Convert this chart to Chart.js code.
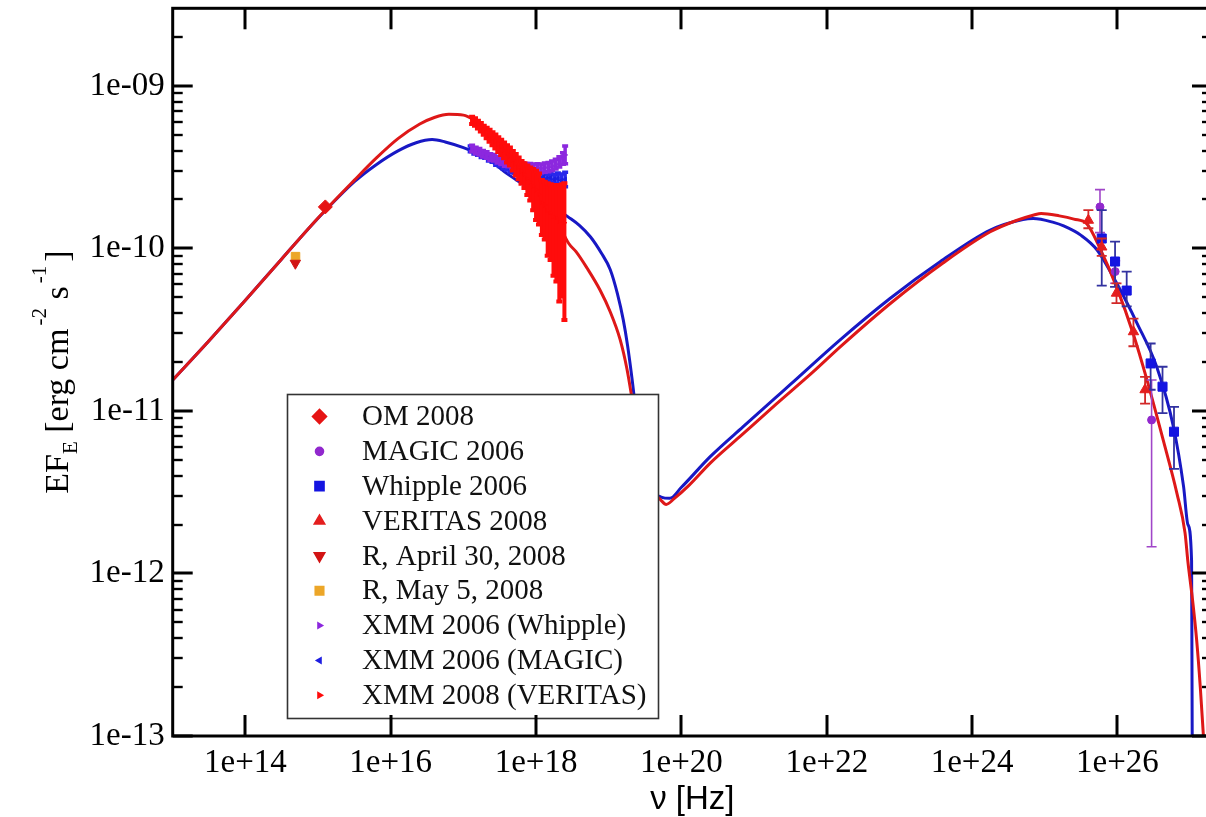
<!DOCTYPE html>
<html>
<head>
<meta charset="utf-8">
<title>SED</title>
<script src="https://cdn.jsdelivr.net/npm/chart.js@4.4.0/dist/chart.umd.min.js"></script>
<style>
  html, body { margin: 0; padding: 0; background: #fff; overflow: hidden; }
  #wrap { width: 1220px; height: 817px; }
</style>
</head>
<body>
<div id="wrap"><canvas id="sed" width="1220" height="817"></canvas></div>
<script>
// ---- axis ranges and tick decades ----
const xRange = [1e13, 2e27];
const yRange = [1e-13, 3e-9];
const xTickExps = [14, 16, 18, 20, 22, 24, 26];
const yTickExps = [-13, -12, -11, -10, -9];

// ---- model curves (log10 nu [Hz], log10 EF_E [erg cm^-2 s^-1]) ----
const model2008LogNu = [13.0, 13.5, 14.0, 14.5, 15.0, 15.5, 15.8, 16.1, 16.4, 16.6, 16.8, 17.0, 17.14, 17.3, 17.5,
  17.7, 17.9, 18.1, 18.3, 18.45, 18.55, 18.7, 18.88, 19.02, 19.156, 19.25, 19.33, 19.42, 19.52, 19.62, 19.72, 19.79,
  19.9, 20.1, 20.4, 20.8, 21.3, 21.8, 22.2, 22.9, 23.6, 24.25, 24.6, 24.85, 24.95, 25.2, 25.4, 25.58, 25.76, 25.99,
  26.22, 26.4, 26.63, 26.82, 26.93, 26.97, 27.03, 27.09, 27.14, 27.19];
const model2008LogF = [-10.81, -10.568, -10.319, -10.065, -9.813, -9.58, -9.445, -9.325, -9.235, -9.195, -9.175,
  -9.18, -9.21, -9.27, -9.35, -9.44, -9.55, -9.68, -9.84, -9.97, -10.02, -10.12, -10.256, -10.39, -10.56, -10.74,
  -10.95, -11.2, -11.4, -11.5, -11.55, -11.575, -11.54, -11.46, -11.32, -11.16, -10.96, -10.765, -10.6, -10.33,
  -10.09, -9.898, -9.83, -9.795, -9.785, -9.80, -9.82, -9.85, -10.0, -10.24, -10.53, -10.8, -11.18, -11.51, -11.75,
  -11.93, -12.15, -12.41, -12.7, -13.05];

const model2006LogNu = [13.0, 13.5, 14.0, 14.5, 15.0, 15.5, 15.8, 16.1, 16.35, 16.57, 16.75, 17.0, 17.14, 17.4,
  17.6, 17.8, 18.0, 18.2, 18.44, 18.6, 18.75, 18.9, 19.02, 19.12, 19.2, 19.26, 19.32, 19.4, 19.5, 19.62, 19.72,
  19.84, 20.0, 20.4, 20.85, 21.3, 21.5, 22.18, 22.87, 23.56, 24.25, 24.7, 24.84, 25.12, 25.26, 25.5, 25.72, 25.99,
  26.27, 26.54, 26.77, 26.91, 26.97, 27.02, 27.025, 27.03];
const model2006LogF = [-10.81, -10.568, -10.319, -10.065, -9.815, -9.59, -9.485, -9.40, -9.35, -9.33, -9.345,
  -9.38, -9.406, -9.47, -9.54, -9.60, -9.66, -9.73, -9.806, -9.86, -9.93, -10.03, -10.13, -10.28, -10.44, -10.6,
  -10.8, -11.1, -11.36, -11.5, -11.53, -11.538, -11.47, -11.28, -11.097, -10.917, -10.837, -10.564, -10.308,
  -10.082, -9.887, -9.822, -9.816, -9.84, -9.862, -9.92, -10.01, -10.215, -10.461, -10.728, -11.097, -11.466, -11.7,
  -11.92, -12.5, -13.2];

// ---- optical points ----
const omNu = [1.26e15];
const omF = [1.8e-10];
const rApr30Nu = [4.87e14];
const rApr30F = [8.1e-11];
const rMay5Nu = [4.9e14];
const rMay5F = [8.9e-11];

// ---- very-high-energy gamma-ray points ----
const magicNu = [5.75e25, 9.3e25, 2.95e26];
const magicF = [1.8e-10, 7.2e-11, 8.8e-12];
const magicLo = [1.25e-10, 6.1e-11, 1.46e-12];
const magicHi = [2.3e-10, 8.4e-11, 1.55e-11];

const whippleNu = [6.08e25, 9.27e25, 1.34e26, 2.86e26, 4.17e26, 6.0e26];
const whippleF = [1.15e-10, 8.3e-11, 5.5e-11, 1.96e-11, 1.41e-11, 7.45e-12];
const whippleLo = [5.9e-11, 5.8e-11, 4.4e-11, 1.35e-11, 9.7e-12, 4.4e-12];
const whippleHi = [1.72e-10, 1.1e-10, 7.2e-11, 2.6e-11, 1.87e-11, 1.06e-11];

const veritasNu = [3.98e25, 6.08e25, 9.7e25, 1.66e26, 2.4e26];
const veritasF = [1.49e-10, 1.02e-10, 5.3e-11, 3.07e-11, 1.35e-11];
const veritasLo = [1.33e-10, 9.0e-11, 4.6e-11, 2.5e-11, 1.11e-11];
const veritasHi = [1.72e-10, 1.15e-10, 6.1e-11, 3.7e-11, 1.62e-11];

// ---- XMM-Newton X-ray spectra (log10 values) ----
const xmm06wLogNu = [17.12, 17.17, 17.22, 17.27, 17.32, 17.37, 17.42, 17.47, 17.52, 17.57, 17.62, 17.67, 17.72,
  17.77, 17.82, 17.87, 17.92, 17.97, 18.02, 18.07, 18.12, 18.17, 18.22, 18.27, 18.32, 18.37, 18.40];
const xmm06wLogF = [-9.385, -9.398, -9.405, -9.418, -9.425, -9.437, -9.443, -9.455, -9.462, -9.472, -9.476, -9.486,
  -9.489, -9.496, -9.497, -9.503, -9.502, -9.507, -9.505, -9.508, -9.503, -9.500, -9.492, -9.482, -9.468, -9.447,
  -9.425];
const xmm06wErr = [0.02, 0.02, 0.02, 0.02, 0.02, 0.02, 0.02, 0.02, 0.022, 0.022, 0.022, 0.022, 0.024, 0.024, 0.024,
  0.025, 0.025, 0.026, 0.026, 0.027, 0.028, 0.028, 0.03, 0.03, 0.032, 0.035, 0.055];

const xmm06mLogNu = [17.10, 17.15, 17.20, 17.25, 17.30, 17.35, 17.40, 17.45, 17.50, 17.55, 17.60, 17.65, 17.70,
  17.75, 17.80, 17.85, 17.90, 17.95, 18.00, 18.05, 18.10, 18.15, 18.20, 18.25, 18.30, 18.35, 18.40];
const xmm06mLogF = [-9.388, -9.401, -9.409, -9.423, -9.428, -9.445, -9.452, -9.470, -9.478, -9.492, -9.498, -9.512,
  -9.518, -9.530, -9.533, -9.543, -9.544, -9.553, -9.552, -9.562, -9.561, -9.570, -9.566, -9.575, -9.571, -9.582,
  -9.576];
const xmm06mErr = [0.018, 0.018, 0.018, 0.018, 0.018, 0.018, 0.018, 0.018, 0.018, 0.018, 0.02, 0.02, 0.02, 0.02,
  0.02, 0.02, 0.02, 0.02, 0.025, 0.025, 0.025, 0.025, 0.025, 0.03, 0.035, 0.04, 0.045];

const xmm08LogNu = [17.12, 17.16, 17.20, 17.24, 17.28, 17.32, 17.36, 17.40, 17.44, 17.48, 17.52, 17.56, 17.60,
  17.64, 17.68, 17.72, 17.76, 17.80, 17.84, 17.88, 17.92, 17.96, 18.00, 18.04, 18.08, 18.12, 18.16, 18.20, 18.24,
  18.28, 18.32, 18.36, 18.39];
const xmm08LogF = [-9.212, -9.222, -9.237, -9.254, -9.272, -9.289, -9.305, -9.323, -9.340, -9.358, -9.375, -9.395,
  -9.415, -9.432, -9.456, -9.480, -9.502, -9.524, -9.545, -9.570, -9.592, -9.616, -9.640, -9.668, -9.717, -9.733,
  -9.768, -9.780, -9.805, -9.812, -9.835, -9.827, -9.842];
const xmm08LogHi = [-9.190, -9.200, -9.214, -9.229, -9.245, -9.258, -9.270, -9.286, -9.299, -9.316, -9.331, -9.349,
  -9.366, -9.380, -9.401, -9.419, -9.441, -9.462, -9.476, -9.490, -9.502, -9.511, -9.522, -9.540, -9.580, -9.590,
  -9.600, -9.605, -9.610, -9.610, -9.610, -9.605, -9.600];
const xmm08LogLo = [-9.235, -9.246, -9.262, -9.281, -9.301, -9.322, -9.344, -9.366, -9.386, -9.407, -9.425, -9.446,
  -9.472, -9.490, -9.521, -9.552, -9.574, -9.603, -9.628, -9.672, -9.705, -9.766, -9.826, -9.853, -9.918, -9.945,
  -10.046, -10.072, -10.168, -10.204, -10.327, -10.296, -10.441];

// ---- helpers building Chart.js data from the arrays ----
const exp10 = a => a.map(v => Math.pow(10, v));
const pts = (nu, f) => nu.map((v, i) => ({ x: v, y: f[i] }));
const logPts = (lnu, lf) => pts(exp10(lnu), exp10(lf));

const RED = 'rgb(222,24,24)';
const BLUE = 'rgb(24,24,196)';

const datasets = [
  { label: 'VERITAS 2008', legendRank: 4, data: pts(veritasNu, veritasF), errLo: veritasLo, errHi: veritasHi,
    pointStyle: 'triangle', pointRadius: 6, backgroundColor: 'rgb(228,30,30)', borderColor: 'rgb(228,30,30)',
    errColor: 'rgb(210,40,40)', errWidth: 1.8, errCap: 5 },
  { label: 'Whipple 2006', legendRank: 3, data: pts(whippleNu, whippleF), errLo: whippleLo, errHi: whippleHi,
    pointStyle: 'rect', pointRadius: 6.4, backgroundColor: 'rgb(20,20,225)', borderColor: 'rgb(20,20,225)',
    errColor: 'rgb(50,50,160)', errWidth: 1.8, errCap: 5 },
  { label: 'MAGIC 2006', legendRank: 2, data: pts(magicNu, magicF), errLo: magicLo, errHi: magicHi,
    pointStyle: 'circle', pointRadius: 4, backgroundColor: 'rgb(145,40,205)', borderColor: 'rgb(145,40,205)',
    errColor: 'rgb(160,70,200)', errWidth: 1.6, errCap: 5 },
  { label: 'OM 2008', legendRank: 1, data: pts(omNu, omF),
    pointStyle: 'rectRot', pointRadius: 7, backgroundColor: 'rgb(230,20,20)', borderColor: 'rgb(230,20,20)' },
  { label: 'R, April 30, 2008', legendRank: 5, data: pts(rApr30Nu, rApr30F),
    pointStyle: 'triangle', pointRotation: 180, pointRadius: 6, backgroundColor: 'rgb(210,20,20)', borderColor: 'rgb(210,20,20)' },
  { label: 'R, May 5, 2008', legendRank: 6, data: pts(rMay5Nu, rMay5F),
    pointStyle: 'rect', pointRadius: 6, backgroundColor: 'rgb(236,166,40)', borderColor: 'rgb(236,166,40)' },
  { label: 'XMM 2008 (VERITAS)', legendRank: 9, data: logPts(xmm08LogNu, xmm08LogF),
    errLo: exp10(xmm08LogLo), errHi: exp10(xmm08LogHi),
    pointStyle: 'triangle', pointRotation: 90, pointRadius: 2.5, backgroundColor: 'rgb(255,12,12)', borderColor: 'rgb(255,12,12)',
    errColor: 'rgb(255,12,12)', errWidth: 4, errCap: 3 },
  { label: 'XMM 2006 (Whipple)', legendRank: 7, data: logPts(xmm06wLogNu, xmm06wLogF),
    errLo: xmm06wLogF.map((v, i) => Math.pow(10, v - xmm06wErr[i])), errHi: xmm06wLogF.map((v, i) => Math.pow(10, v + xmm06wErr[i])),
    pointStyle: 'triangle', pointRotation: 90, pointRadius: 2.5, backgroundColor: 'rgb(140,40,222)', borderColor: 'rgb(140,40,222)',
    errColor: 'rgb(140,40,222)', errWidth: 3.5, errCap: 3 },
  { label: 'XMM 2006 (MAGIC)', legendRank: 8, data: logPts(xmm06mLogNu, xmm06mLogF),
    errLo: xmm06mLogF.map((v, i) => Math.pow(10, v - xmm06mErr[i])), errHi: xmm06mLogF.map((v, i) => Math.pow(10, v + xmm06mErr[i])),
    pointStyle: 'triangle', pointRotation: -90, pointRadius: 2.5, backgroundColor: 'rgb(30,30,225)', borderColor: 'rgb(30,30,225)',
    errColor: 'rgb(40,40,235)', errWidth: 3.5, errCap: 3 },
  { label: 'model 2008', data: logPts(model2008LogNu, model2008LogF), showLine: true, pointRadius: 0,
    borderColor: RED, backgroundColor: RED, borderWidth: 3, cubicInterpolationMode: 'monotone' },
  { label: 'model 2006', data: logPts(model2006LogNu, model2006LogF), showLine: true, pointRadius: 0,
    borderColor: BLUE, backgroundColor: BLUE, borderWidth: 3, cubicInterpolationMode: 'monotone' }
];
datasets.forEach(d => { d.pointHoverRadius = d.pointRadius; d.borderWidth = d.borderWidth || 1; });

// ---- error bars, drawn just before their own dataset ----
const errorBars = {
  id: 'errorBars',
  beforeDatasetDraw(chart, args) {
    const ds = chart.data.datasets[args.index];
    if (!ds.errLo) return;
    const { ctx, chartArea: a, scales: { x, y } } = chart;
    ctx.save();
    ctx.beginPath();
    ctx.rect(a.left, a.top, a.right - a.left, a.bottom - a.top);
    ctx.clip();
    ctx.strokeStyle = ds.errColor;
    ctx.lineWidth = ds.errWidth;
    const cap = ds.errCap;
    ds.data.forEach((p, i) => {
      const px = x.getPixelForValue(p.x);
      const y1 = y.getPixelForValue(ds.errLo[i]);
      const y2 = y.getPixelForValue(ds.errHi[i]);
      ctx.beginPath();
      ctx.moveTo(px, y1); ctx.lineTo(px, y2);
      ctx.moveTo(px - cap, y1); ctx.lineTo(px + cap, y1);
      ctx.moveTo(px - cap, y2); ctx.lineTo(px + cap, y2);
      ctx.stroke();
    });
    ctx.restore();
  }
};

// ---- legend box, frame with inward ticks, axis titles ----
const decorations = {
  id: 'decorations',
  afterDraw(chart) {
    const { ctx, chartArea: a, scales: { x, y } } = chart;
    ctx.save();

    // legend
    const box = { l: 287.5, t: 394.5, r: 658.5, b: 718.5 };
    ctx.fillStyle = '#fff';
    ctx.fillRect(box.l, box.t, box.r - box.l, box.b - box.t);
    ctx.strokeStyle = '#333';
    ctx.lineWidth = 1.6;
    ctx.strokeRect(box.l, box.t, box.r - box.l, box.b - box.t);
    const entries = chart.data.datasets.filter(d => d.legendRank).sort((p, q) => p.legendRank - q.legendRank);
    ctx.font = '29px "Liberation Serif"';
    ctx.textBaseline = 'middle';
    ctx.textAlign = 'left';
    entries.forEach((d, i) => {
      const cy = 416.5 + i * 34.85;
      ctx.fillStyle = d.backgroundColor;
      ctx.strokeStyle = d.borderColor;
      Chart.helpers.drawPoint(ctx, {
        pointStyle: d.pointStyle, rotation: d.pointRotation || 0,
        radius: d.pointRadius < 3 ? 3 : d.pointRadius, borderWidth: 1
      }, 319.5, cy);
      ctx.fillStyle = '#111';
      ctx.fillText(d.label, 362, cy + 1);
    });

    // frame
    ctx.strokeStyle = '#000';
    ctx.lineWidth = 3;
    ctx.strokeRect(a.left, a.top, a.right - a.left, a.bottom - a.top);
    const seg = (x1, y1, x2, y2) => { ctx.beginPath(); ctx.moveTo(x1, y1); ctx.lineTo(x2, y2); ctx.stroke(); };

    // x ticks (major decades only), bottom and top
    xTickExps.forEach(e => {
      const px = Math.round(x.getPixelForValue(Math.pow(10, e)));
      seg(px, a.bottom, px, a.bottom - 21);
      seg(px, a.top, px, a.top + 21);
    });
    // y ticks: decades and 2..9 minors, left and right
    for (let e = yTickExps[0]; e <= yTickExps[yTickExps.length - 1]; e++) {
      for (let m = 1; m <= 9; m++) {
        const v = m * Math.pow(10, e);
        if (v >= yRange[1] * 0.999) break;
        const py = Math.round(y.getPixelForValue(v));
        const len = m === 1 ? 20 : 10;
        ctx.lineWidth = m === 1 ? 3 : 2.4;
        seg(a.left, py, a.left + len, py);
        seg(a.right, py, a.right - len, py);
      }
    }

    // x title
    ctx.fillStyle = '#000';
    ctx.textAlign = 'center';
    ctx.textBaseline = 'alphabetic';
    ctx.font = '33px "Liberation Sans"';
    ctx.fillText('\u03bd [Hz]', (a.left + a.right) / 2, 809);

    // y title with sub/superscripts, rotated
    const big = '34px "Liberation Serif"', small = '21px "Liberation Serif"';
    const parts = [
      { t: 'EF', f: big, dy: 0 }, { t: 'E', f: small, dy: 9 },
      { t: ' [erg cm', f: big, dy: 0 }, { t: '-2', f: small, dy: -22, pre: 3 },
      { t: ' s', f: big, dy: 0 }, { t: '-1', f: small, dy: -22, pre: 3 },
      { t: ']', f: big, dy: 0, pre: 4 }
    ];
    let total = 0;
    parts.forEach(p => { ctx.font = p.f; p.w = ctx.measureText(p.t).width; total += p.w + (p.pre || 0); });
    ctx.translate(68, (a.top + a.bottom) / 2);
    ctx.rotate(-Math.PI / 2);
    ctx.textAlign = 'left';
    let cx = -total / 2;
    parts.forEach(p => {
      cx += p.pre || 0;
      ctx.font = p.f;
      ctx.fillText(p.t, cx, p.dy);
      cx += p.w;
    });
    ctx.restore();
  }
};

const expLabel = v => {
  const e = Math.round(Math.log10(v));
  return '1e' + (e < 0 ? '-' : '+') + String(Math.abs(e)).padStart(2, '0');
};

new Chart(document.getElementById('sed'), {
  type: 'scatter',
  data: { datasets },
  options: {
    responsive: false,
    animation: false,
    devicePixelRatio: 1,
    layout: { padding: { left: 0, top: 8.3, right: 8, bottom: 0 } },
    plugins: { legend: { display: false }, tooltip: { enabled: false } },
    elements: { line: { tension: 0 } },
    scales: {
      x: {
        type: 'logarithmic', position: 'bottom', min: xRange[0], max: xRange[1],
        grid: { display: false }, border: { display: false },
        afterBuildTicks: s => { s.ticks = xTickExps.map(e => ({ value: Math.pow(10, e) })); },
        afterFit: s => { s.height = 81; s.paddingLeft = 0; s.paddingRight = 0; },
        ticks: { autoSkip: false, maxRotation: 0, minRotation: 0, padding: 0, color: '#000',
          font: { family: 'Liberation Serif', size: 33 }, callback: v => expLabel(v) }
      },
      y: {
        type: 'logarithmic', position: 'left', min: yRange[0], max: yRange[1],
        grid: { display: false }, border: { display: false },
        afterBuildTicks: s => { s.ticks = yTickExps.map(e => ({ value: Math.pow(10, e) })); },
        afterFit: s => { s.width = 172.7; s.paddingTop = 0; s.paddingBottom = 0; },
        ticks: { autoSkip: false, padding: 0, color: '#000',
          font: { family: 'Liberation Serif', size: 33 }, callback: v => expLabel(v) }
      }
    }
  },
  plugins: [errorBars, decorations]
});
</script>
